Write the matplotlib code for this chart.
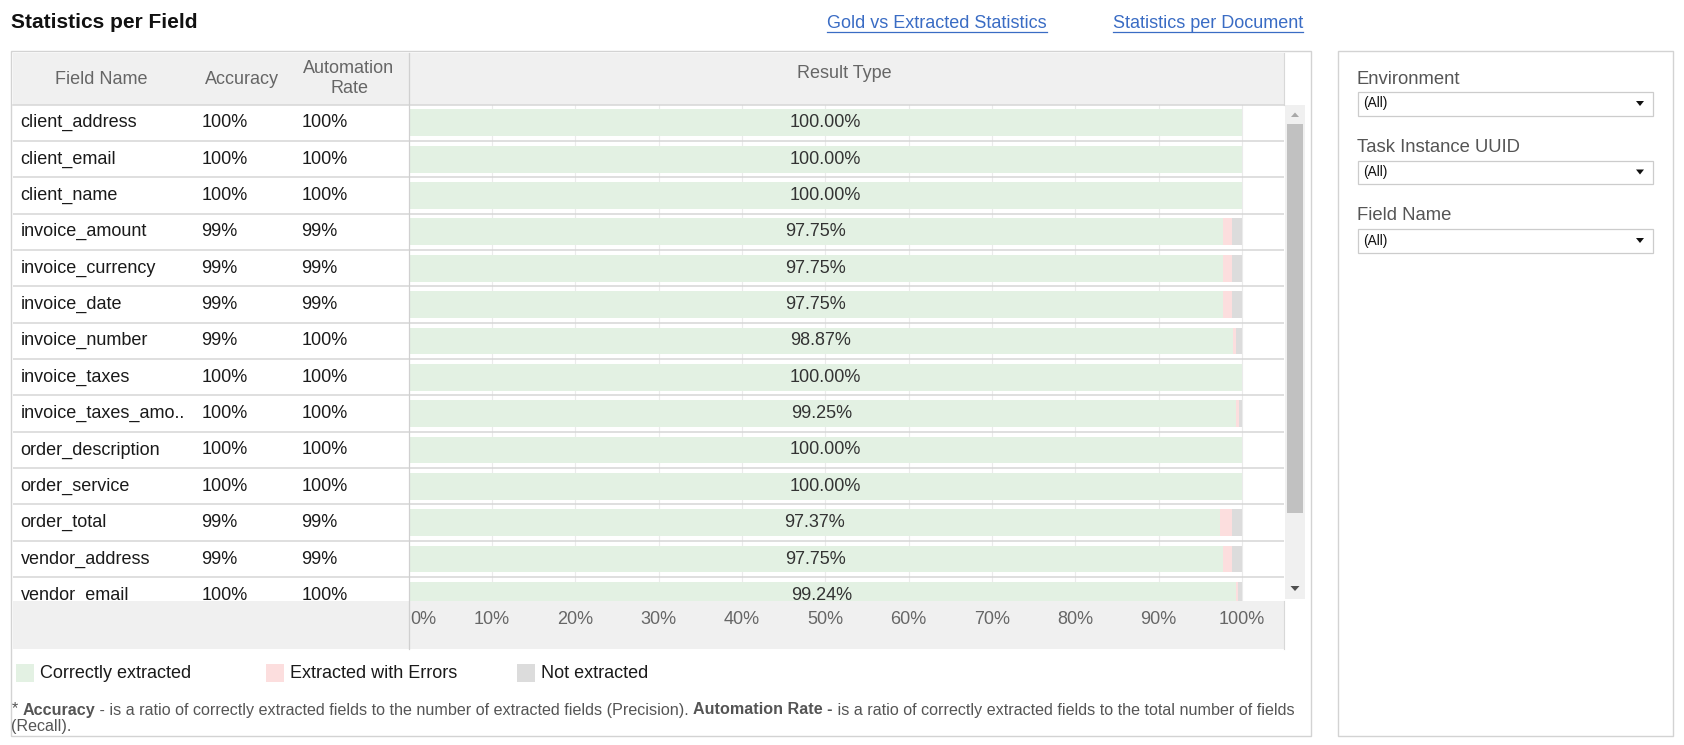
import matplotlib
matplotlib.use('Agg')
import matplotlib.pyplot as plt
from matplotlib.patches import Rectangle, Polygon
from matplotlib.lines import Line2D

# ---------------- data ----------------
fields = ['client_address', 'client_email', 'client_name', 'invoice_amount',
          'invoice_currency', 'invoice_date', 'invoice_number', 'invoice_taxes',
          'invoice_taxes_amo..', 'order_description', 'order_service',
          'order_total', 'vendor_address', 'vendor_email']
accuracy = ['100%', '100%', '100%', '99%', '99%', '99%', '99%', '100%',
            '100%', '100%', '100%', '99%', '99%', '100%']
automation = ['100%', '100%', '100%', '99%', '99%', '99%', '100%', '100%',
              '100%', '100%', '100%', '99%', '99%', '100%']
correct = [100.00, 100.00, 100.00, 97.75, 97.75, 97.75, 98.87, 100.00,
           99.25, 100.00, 100.00, 97.37, 97.75, 99.24]
errors = [0, 0, 0, 1.10, 1.10, 1.10, 0.47, 0, 0.38, 0, 0, 1.38, 1.00, 0.25]
not_extracted = [0, 0, 0, 1.15, 1.15, 1.15, 0.66, 0, 0.37, 0, 0, 1.25, 1.25, 0.51]
xticks = [0, 10, 20, 30, 40, 50, 60, 70, 80, 90, 100]
xtick_labels = ['0%', '10%', '20%', '30%', '40%', '50%', '60%', '70%', '80%', '90%', '100%']
legend_labels = ['Correctly extracted', 'Extracted with Errors', 'Not extracted']
filters = ['Environment', 'Task Instance UUID', 'Field Name']

# ---------------- style ----------------
W, H = 1684, 745
plt.rcParams['font.family'] = ['Liberation Sans', 'DejaVu Sans']
C_GREEN, C_PINK, C_GREY = '#e3f1e3', '#fcdede', '#dcdcdc'
C_HEAD = '#f0f0f0'
C_LINE = '#d6d6d6'
C_BORDER = '#d3d3d3'
C_TXT = '#1a1a1a'
C_HTXT = '#666666'
C_LINK = '#3a6cc4'
FS = 13

fig = plt.figure(figsize=(W / 100, H / 100), dpi=100)
fig.patch.set_facecolor('white')


def fx(x):
    return x / W


def fy(y):
    return 1 - y / H


def frect(x0, y0, x1, y1, **kw):
    r = Rectangle((fx(x0), fy(y1)), fx(x1) - fx(x0), fy(y0) - fy(y1),
                  transform=fig.transFigure, **kw)
    fig.add_artist(r)
    return r


def ftext(x, y, s, **kw):
    return fig.text(fx(x), fy(y), s, **kw)


def fline(x0, y0, x1, y1, **kw):
    fig.add_artist(Line2D([fx(x0), fx(x1)], [fy(y0), fy(y1)],
                          transform=fig.transFigure, **kw))


# title and links
ftext(11, 22.5, 'Statistics per Field', fontsize=15, fontweight='bold',
      ha='left', va='center', color='#111111')
renderer = fig.canvas.get_renderer()
for lx, s in [(827, 'Gold vs Extracted Statistics'), (1113, 'Statistics per Document')]:
    t = ftext(lx, 24, s, fontsize=FS, color=C_LINK, ha='left', va='center')
    bb = t.get_window_extent(renderer)
    fline(lx, 31.5, lx + bb.width, 31.5, color=C_LINK, lw=0.9)

# panels
frect(11, 50.5, 1310.5, 736, facecolor='white', edgecolor=C_BORDER, lw=1.0, zorder=0)
frect(1338, 50.5, 1672.5, 736, facecolor='white', edgecolor=C_BORDER, lw=1.0, zorder=0)

# header band and axis band
frect(13, 53, 1283.5, 105, facecolor=C_HEAD, edgecolor='none', zorder=1)
frect(13, 601, 1283.5, 648.5, facecolor=C_HEAD, edgecolor='none', zorder=1)
fline(1283.5, 53, 1283.5, 105, color='#d8d8d8', lw=0.8, zorder=2)
fline(1283.5, 601, 1283.5, 648.5, color='#d8d8d8', lw=0.8, zorder=2)
fline(13, 105, 1283.5, 105, color=C_LINE, lw=1.1, zorder=2)

ftext(101, 79, 'Field Name', fontsize=FS, color=C_HTXT, ha='center', va='center')
ftext(242, 79, 'Accuracy', fontsize=FS, color=C_HTXT, ha='center', va='center')
ftext(349, 78.5, 'Automation\nRate', fontsize=FS, color=C_HTXT, ha='center',
      va='center', linespacing=1.22)
ftext(844, 74, 'Result Type', fontsize=FS, color=C_HTXT, ha='center', va='center')

# ---------------- table axes ----------------
y_top, y_bot = 105, 601
row0, row_h = 122.8, 36.35
ylim = ((y_bot - row0) / row_h, (y_top - row0) / row_h)
px_per_pct = (1242 - 408.6) / 100.0
x0_bar, x1_bar = 408.6, 1283.5

axl = fig.add_axes([fx(13), fy(y_bot), fx(x0_bar) - fx(13), fy(y_top) - fy(y_bot)])
axl.set_xlim(13, x0_bar)
axl.set_ylim(*ylim)
axl.axis('off')

ax = fig.add_axes([fx(x0_bar), fy(y_bot), fx(x1_bar) - fx(x0_bar), fy(y_top) - fy(y_bot)])
ax.set_xlim(0, (x1_bar - x0_bar) / px_per_pct)
ax.set_ylim(*ylim)
ax.axis('off')

n = len(fields)
ypos = list(range(n))
for v in xticks[1:]:
    ax.axvline(v, color='#ebebeb', lw=0.8, zorder=0)

left2 = [c + e for c, e in zip(correct, errors)]
ax.barh(ypos, correct, height=0.735, color=C_GREEN, zorder=2)
ax.barh(ypos, errors, left=correct, height=0.735, color=C_PINK, zorder=2)
ax.barh(ypos, not_extracted, left=left2, height=0.735, color=C_GREY, zorder=2)

for i in range(n):
    ax.text(correct[i] / 2, i, f'{correct[i]:.2f}%', ha='center', va='center',
            fontsize=FS, color='#333333', zorder=3, clip_on=True)
    axl.text(20.5, i, fields[i], ha='left', va='center', fontsize=FS, color=C_TXT, clip_on=True)
    axl.text(201.5, i, accuracy[i], ha='left', va='center', fontsize=FS, color=C_TXT, clip_on=True)
    axl.text(301.5, i, automation[i], ha='left', va='center', fontsize=FS, color=C_TXT, clip_on=True)

for i in range(n):
    for a in (ax, axl):
        a.axhline(i + 0.5, color=C_LINE, lw=1.1, zorder=1)

# column divider
fline(x0_bar, 53, x0_bar, 648.5, color='#d0d0d0', lw=0.9, zorder=6)

# tick labels in the axis band
axb = fig.add_axes([fx(x0_bar), fy(648.5), fx(x1_bar) - fx(x0_bar), fy(601) - fy(648.5)])
axb.set_zorder(5)
axb.patch.set_alpha(0)
axb.set_xlim(ax.get_xlim())
axb.set_ylim(0, 1)
axb.axis('off')
for v, lab in zip(xticks, xtick_labels):
    if v == 0:
        axb.text(v + 0.2, 0.6, lab, ha='left', va='center', fontsize=13, color=C_HTXT)
    else:
        axb.text(v, 0.6, lab, ha='center', va='center', fontsize=13, color=C_HTXT)

# scrollbar
frect(1284.5, 105, 1305, 599, facecolor='#f0f0f0', edgecolor='none', zorder=1)
frect(1286.5, 124, 1303, 513, facecolor='#c1c1c1', edgecolor='none', zorder=2)
fig.add_artist(Polygon([[fx(1291), fy(117)], [fx(1299), fy(117)], [fx(1295), fy(112.5)]],
                       closed=True, transform=fig.transFigure, facecolor='#a8a8a8',
                       edgecolor='none', zorder=3))
fig.add_artist(Polygon([[fx(1290.5), fy(586)], [fx(1299.5), fy(586)], [fx(1295), fy(591)]],
                       closed=True, transform=fig.transFigure, facecolor='#505050',
                       edgecolor='none', zorder=3))

# legend
for lx, col, lab in [(16, C_GREEN, legend_labels[0]), (266, C_PINK, legend_labels[1]),
                     (517, C_GREY, legend_labels[2])]:
    frect(lx, 664, lx + 18, 682, facecolor=col, edgecolor='none', zorder=2)
    ftext(lx + 24, 673.5, lab, fontsize=FS, color=C_TXT, ha='left', va='center')

# footnote
fn_fs = 11.6
pieces1 = [('* ', 'normal'), ('Accuracy', 'bold'),
           (' - is a ratio of correctly extracted fields to the number of extracted fields (Precision). ', 'normal'),
           ('Automation Rate -', 'bold'),
           (' is a ratio of correctly extracted fields to the total number of fields', 'normal')]
x = 11.5
for s, w in pieces1:
    t = ftext(x, 710, s, fontsize=fn_fs, fontweight=w, color='#555555', ha='left', va='center')
    x += t.get_window_extent(renderer).width
ftext(11.5, 726, '(Recall).', fontsize=fn_fs, color='#555555', ha='left', va='center')

# filter panel
for k, lab in enumerate(filters):
    yl = 79 + k * 68.5
    ftext(1357, yl, lab, fontsize=13.3, color='#555555', ha='left', va='center')
    frect(1358, yl + 13, 1653, yl + 36.5, facecolor='white', edgecolor='#cccccc', lw=0.9, zorder=2)
    ftext(1363, yl + 24.5, '(All)', fontsize=9.8, color='#111111', ha='left', va='center')
    cy = yl + 24.5
    fig.add_artist(Polygon([[fx(1636), fy(cy - 2.5)], [fx(1644), fy(cy - 2.5)], [fx(1640), fy(cy + 2.5)]],
                           closed=True, transform=fig.transFigure, facecolor='#111111',
                           edgecolor='none', zorder=3))

fig.savefig('out.png', dpi=100, facecolor='white')
